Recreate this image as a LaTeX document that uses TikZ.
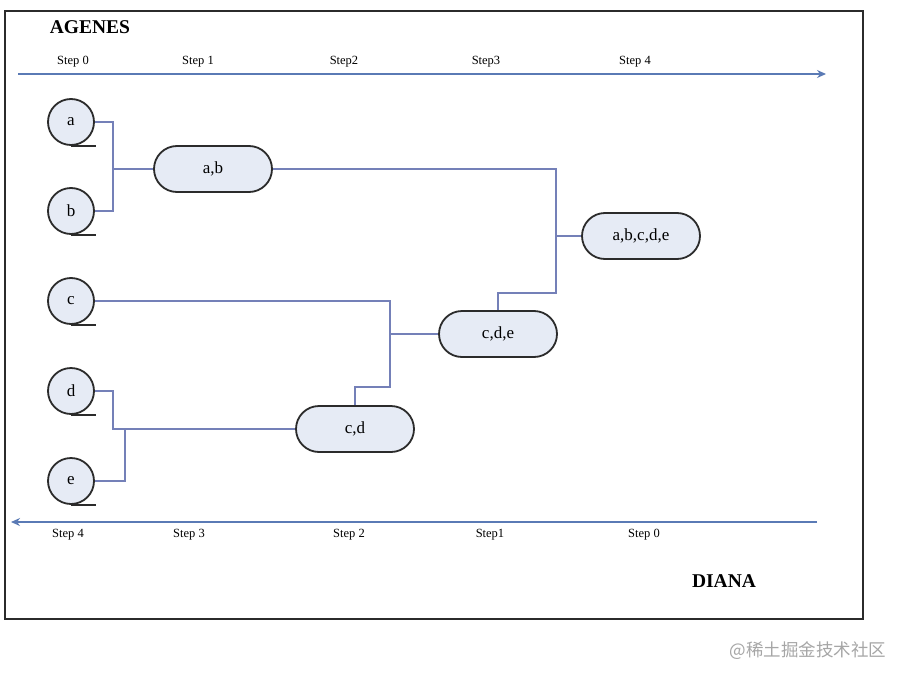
\documentclass[tikz,border=0pt]{standalone}
\usepackage{fontspec}
\setmainfont{Liberation Serif}
\newfontfamily\cjk{Noto Sans CJK SC}
\usetikzlibrary{shapes.misc,arrows.meta}
\definecolor{conncol}{HTML}{7480B8}
\definecolor{axiscol}{HTML}{5A7AB5}
\definecolor{nodefill}{HTML}{E6EBF5}
\definecolor{edgecol}{HTML}{2B2B2B}
\tikzset{
  leaf/.style={circle, draw=edgecol, line width=1.8pt, fill=nodefill, minimum size=46pt, inner sep=0pt, font=\fontsize{17}{19}\selectfont},
  cluster/.style={rounded rectangle, draw=edgecol, line width=1.8pt, fill=nodefill, minimum width=118pt, minimum height=46pt, inner sep=0pt, font=\fontsize{17}{19}\selectfont},
  conn/.style={draw=conncol, line width=1.6pt},
  tail/.style={draw=edgecol, line width=1.8pt},
  axis/.style={draw=axiscol, line width=1.8pt},
  steplbl/.style={font=\fontsize{12.5}{14}\selectfont, inner sep=0pt},
  titlelbl/.style={font=\fontsize{19.5}{21}\selectfont\bfseries, inner sep=0pt}
}
\begin{document}
\begin{tikzpicture}[x=1pt,y=-1pt]
\useasboundingbox (0,0) rectangle (909,682);
\fill[white] (0,0) rectangle (909,682);
\draw[line width=1.8pt, draw=edgecol] (5,11) rectangle (863,619);

\node[titlelbl] (agenes) at (90,27) {AGENES};
\node[titlelbl] (diana) at (724,581) {DIANA};

% top axis
\coordinate (ta0) at (18,74);
\coordinate (ta1) at (826,74);
\draw[axis, -{Stealth[length=9pt,width=8pt]}] (ta0) -- (ta1);
\node[steplbl] (ts0) at (73,62) {Step 0};
\node[steplbl] (ts1) at (198,62) {Step 1};
\node[steplbl] (ts2) at (344,62) {Step2};
\node[steplbl] (ts3) at (486,62) {Step3};
\node[steplbl] (ts4) at (635,62) {Step 4};

% bottom axis
\coordinate (ba0) at (817,522);
\coordinate (ba1) at (11,522);
\draw[axis, -{Stealth[length=9pt,width=8pt]}] (ba0) -- (ba1);
\node[steplbl] (bs4) at (68,535) {Step 4};
\node[steplbl] (bs3) at (189,535) {Step 3};
\node[steplbl] (bs2) at (349,535) {Step 2};
\node[steplbl] (bs1) at (490,535) {Step1};
\node[steplbl] (bs0) at (644,535) {Step 0};

% leaves
\node[leaf] (a) at (71,122) {a};
\node[leaf] (b) at (71,211) {b};
\node[leaf] (c) at (71,301) {c};
\node[leaf] (d) at (71,391) {d};
\node[leaf] (e) at (71,481) {e};
\foreach \n in {a,b,c,d,e}{
  \draw[tail] (\n.south) -- ++(25,0);
}

% clusters
\node[cluster] (ab) at (213,169) {a,b};
\node[cluster] (cd) at (355,429) {c,d};
\node[cluster] (cde) at (498,334) {c,d,e};
\node[cluster] (abcde) at (641,236) {a,b,c,d,e};

% joints
\coordinate (j1) at (113,169);
\coordinate (j2) at (556,236);
\coordinate (k2) at (556,293);
\coordinate (j3) at (390,334);
\coordinate (k3) at (390,387);
\coordinate (j4) at (113,429);
\coordinate (j5) at (125,429);

\draw[conn] (a.east) -| (j1) |- (b.east);
\draw[conn] (j1) -- (ab.west);
\draw[conn] (ab.east) -| (j2) -- (abcde.west);
\draw[conn] (j2) -- (k2) -| (cde.north);
\draw[conn] (c.east) -| (j3) -- (cde.west);
\draw[conn] (j3) -- (k3) -| (cd.north);
\draw[conn] (d.east) -| (j4) -- (cd.west);
\draw[conn] (e.east) -| (j5);

\node[text=gray!70, font=\cjk\fontsize{17.5}{19}\selectfont, inner sep=0pt] (wm) at (808,651) {@稀土掘金技术社区};
\end{tikzpicture}
\end{document}
